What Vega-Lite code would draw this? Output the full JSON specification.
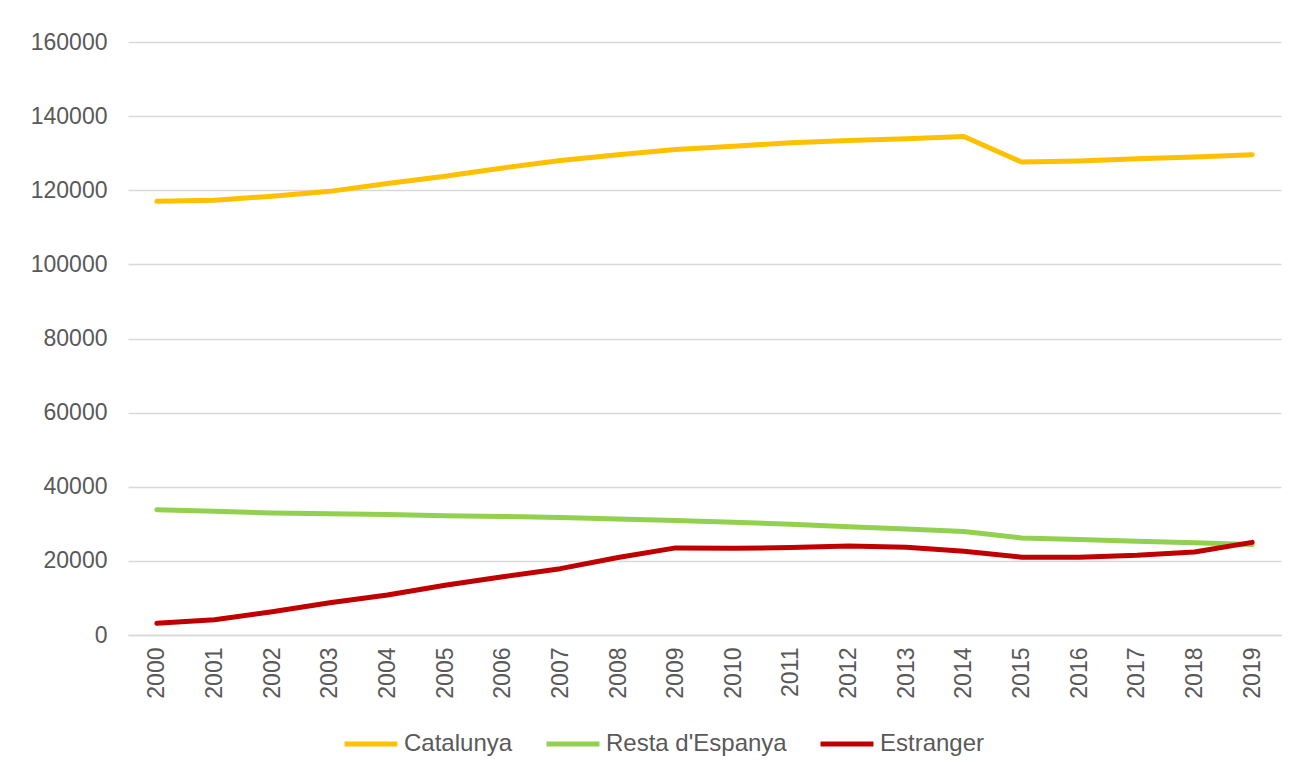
{
  "$schema": "https://vega.github.io/schema/vega-lite/v6.json",
  "width": 1153,
  "height": 593,
  "autosize": {"type": "none"},
  "padding": {"left": 128, "top": 42, "right": 15, "bottom": 137},
  "background": "white",
  "config": {
    "view": {"stroke": null},
    "font": "Liberation Sans"
  },
  "data": {
    "values": [
      {"year": "2000", "series": "Catalunya", "value": 117000},
      {"year": "2001", "series": "Catalunya", "value": 117300},
      {"year": "2002", "series": "Catalunya", "value": 118400},
      {"year": "2003", "series": "Catalunya", "value": 119700},
      {"year": "2004", "series": "Catalunya", "value": 121800},
      {"year": "2005", "series": "Catalunya", "value": 123800},
      {"year": "2006", "series": "Catalunya", "value": 126000},
      {"year": "2007", "series": "Catalunya", "value": 128000},
      {"year": "2008", "series": "Catalunya", "value": 129600},
      {"year": "2009", "series": "Catalunya", "value": 131000},
      {"year": "2010", "series": "Catalunya", "value": 131900},
      {"year": "2011", "series": "Catalunya", "value": 132800},
      {"year": "2012", "series": "Catalunya", "value": 133400},
      {"year": "2013", "series": "Catalunya", "value": 133900},
      {"year": "2014", "series": "Catalunya", "value": 134500},
      {"year": "2015", "series": "Catalunya", "value": 127600},
      {"year": "2016", "series": "Catalunya", "value": 127900},
      {"year": "2017", "series": "Catalunya", "value": 128500},
      {"year": "2018", "series": "Catalunya", "value": 129000},
      {"year": "2019", "series": "Catalunya", "value": 129600},
      {"year": "2000", "series": "Resta d'Espanya", "value": 33800},
      {"year": "2001", "series": "Resta d'Espanya", "value": 33400},
      {"year": "2002", "series": "Resta d'Espanya", "value": 32900},
      {"year": "2003", "series": "Resta d'Espanya", "value": 32700},
      {"year": "2004", "series": "Resta d'Espanya", "value": 32500},
      {"year": "2005", "series": "Resta d'Espanya", "value": 32200},
      {"year": "2006", "series": "Resta d'Espanya", "value": 32000},
      {"year": "2007", "series": "Resta d'Espanya", "value": 31700},
      {"year": "2008", "series": "Resta d'Espanya", "value": 31300},
      {"year": "2009", "series": "Resta d'Espanya", "value": 30900},
      {"year": "2010", "series": "Resta d'Espanya", "value": 30400},
      {"year": "2011", "series": "Resta d'Espanya", "value": 29900},
      {"year": "2012", "series": "Resta d'Espanya", "value": 29200},
      {"year": "2013", "series": "Resta d'Espanya", "value": 28600},
      {"year": "2014", "series": "Resta d'Espanya", "value": 27900},
      {"year": "2015", "series": "Resta d'Espanya", "value": 26200},
      {"year": "2016", "series": "Resta d'Espanya", "value": 25800},
      {"year": "2017", "series": "Resta d'Espanya", "value": 25300},
      {"year": "2018", "series": "Resta d'Espanya", "value": 24900},
      {"year": "2019", "series": "Resta d'Espanya", "value": 24400},
      {"year": "2000", "series": "Estranger", "value": 3150},
      {"year": "2001", "series": "Estranger", "value": 4100},
      {"year": "2002", "series": "Estranger", "value": 6300},
      {"year": "2003", "series": "Estranger", "value": 8700},
      {"year": "2004", "series": "Estranger", "value": 10800},
      {"year": "2005", "series": "Estranger", "value": 13400},
      {"year": "2006", "series": "Estranger", "value": 15700},
      {"year": "2007", "series": "Estranger", "value": 17900},
      {"year": "2008", "series": "Estranger", "value": 20900},
      {"year": "2009", "series": "Estranger", "value": 23500},
      {"year": "2010", "series": "Estranger", "value": 23400},
      {"year": "2011", "series": "Estranger", "value": 23600},
      {"year": "2012", "series": "Estranger", "value": 24000},
      {"year": "2013", "series": "Estranger", "value": 23700},
      {"year": "2014", "series": "Estranger", "value": 22600},
      {"year": "2015", "series": "Estranger", "value": 21000},
      {"year": "2016", "series": "Estranger", "value": 21000},
      {"year": "2017", "series": "Estranger", "value": 21500},
      {"year": "2018", "series": "Estranger", "value": 22400},
      {"year": "2019", "series": "Estranger", "value": 25000}
    ]
  },
  "mark": {"type": "line", "strokeWidth": 5, "strokeCap": "round", "strokeJoin": "round"},
  "encoding": {
    "x": {
      "field": "year",
      "type": "ordinal",
      "scale": {"type": "point", "padding": 0.5},
      "axis": {
        "title": null,
        "labelAngle": -90,
        "labelFontSize": 23,
        "labelColor": "#595959",
        "labelPadding": 12,
        "ticks": false,
        "domain": true,
        "domainColor": "#D9D9D9",
        "domainWidth": 1.5,
        "grid": false
      }
    },
    "y": {
      "field": "value",
      "type": "quantitative",
      "scale": {"domain": [0, 160000], "nice": false},
      "axis": {
        "title": null,
        "values": [0, 20000, 40000, 60000, 80000, 100000, 120000, 140000, 160000],
        "format": "d",
        "labelFontSize": 23,
        "labelColor": "#595959",
        "labelPadding": 21,
        "ticks": false,
        "domain": false,
        "grid": true,
        "gridColor": "#D9D9D9",
        "gridWidth": 1.5
      }
    },
    "color": {
      "field": "series",
      "type": "nominal",
      "sort": ["Catalunya", "Resta d'Espanya", "Estranger"],
      "scale": {
        "domain": ["Catalunya", "Resta d'Espanya", "Estranger"],
        "range": ["#FFC000", "#92D050", "#C00000"]
      },
      "legend": {
        "title": null,
        "orient": "none",
        "legendX": 214,
        "legendY": 673,
        "direction": "horizontal",
        "symbolType": "stroke",
        "symbolSize": 2800,
        "symbolStrokeWidth": 5,
        "labelFontSize": 24,
        "labelColor": "#595959",
        "labelLimit": 400,
        "labelOffset": 4,
        "columnPadding": 23
      }
    }
  }
}
